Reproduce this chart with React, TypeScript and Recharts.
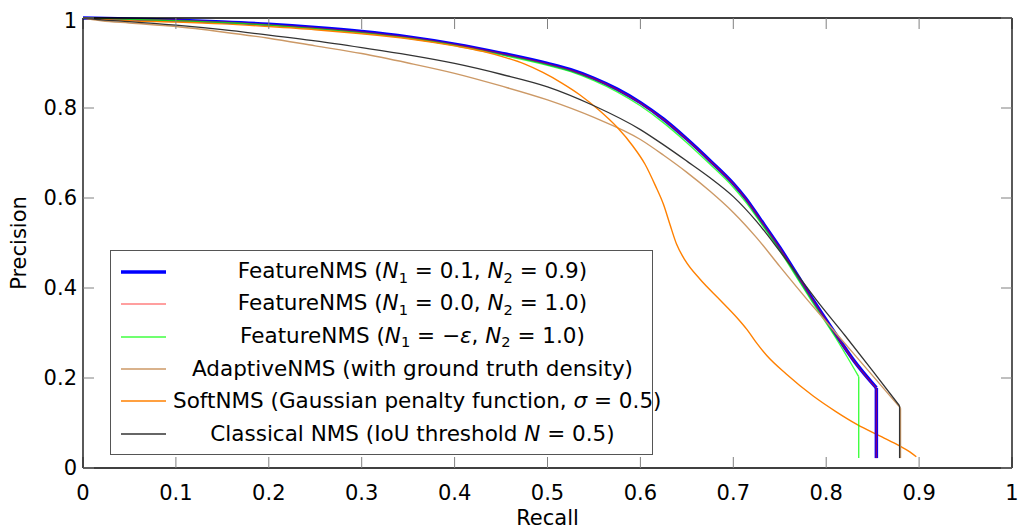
import React from 'react'
import { LineChart, Line, XAxis, YAxis, Legend } from 'recharts'

type Pt = [number, number] // [recall, precision]

const recallTicks = [0, 0.1, 0.2, 0.3, 0.4, 0.5, 0.6, 0.7, 0.8, 0.9, 1]
const precisionTicks = [0, 0.2, 0.4, 0.6, 0.8, 1]

// each curve ends at its last point, then drops straight down to dropTo
const featureNms0109: Pt[] = [
    [0, 1.0], [0.05, 0.998], [0.1, 0.995], [0.15, 0.991], [0.2, 0.986], [0.25, 0.979], [0.3, 0.97],
    [0.35, 0.958], [0.4, 0.942], [0.45, 0.922], [0.5, 0.899], [0.525, 0.885], [0.55, 0.866], [0.575, 0.842],
    [0.6, 0.812], [0.625, 0.775], [0.65, 0.731], [0.675, 0.683], [0.7, 0.632], [0.713, 0.6], [0.729, 0.553],
    [0.75, 0.49], [0.77, 0.425], [0.786, 0.373], [0.81, 0.298], [0.83, 0.238], [0.854, 0.178],
]

const featureNms0010: Pt[] = [
    [0, 1.0], [0.05, 0.998], [0.1, 0.995], [0.15, 0.991], [0.2, 0.985], [0.25, 0.978], [0.3, 0.969],
    [0.35, 0.957], [0.4, 0.941], [0.45, 0.921], [0.5, 0.898], [0.525, 0.884], [0.55, 0.865], [0.575, 0.841],
    [0.6, 0.811], [0.625, 0.774], [0.65, 0.73], [0.675, 0.682], [0.7, 0.631], [0.713, 0.599], [0.729, 0.552],
    [0.75, 0.489], [0.77, 0.424], [0.786, 0.372], [0.81, 0.297], [0.83, 0.237], [0.854, 0.177],
]

const featureNmsEps10: Pt[] = [
    [0, 1.0], [0.05, 0.997], [0.1, 0.994], [0.15, 0.99], [0.2, 0.984], [0.25, 0.976], [0.3, 0.967],
    [0.35, 0.955], [0.4, 0.939], [0.45, 0.918], [0.5, 0.895], [0.525, 0.881], [0.55, 0.861], [0.575, 0.836],
    [0.6, 0.805], [0.625, 0.767], [0.65, 0.723], [0.675, 0.675], [0.7, 0.624], [0.713, 0.592], [0.729, 0.546],
    [0.75, 0.483], [0.77, 0.418], [0.786, 0.366], [0.81, 0.29], [0.835, 0.203],
]

const adaptiveNms: Pt[] = [
    [0, 1.0], [0.02, 0.994], [0.05, 0.989], [0.1, 0.981], [0.15, 0.969], [0.2, 0.955], [0.25, 0.938],
    [0.3, 0.921], [0.35, 0.9], [0.4, 0.877], [0.45, 0.849], [0.5, 0.818], [0.55, 0.779], [0.6, 0.73],
    [0.625, 0.695], [0.65, 0.657], [0.675, 0.615], [0.7, 0.568], [0.725, 0.512], [0.75, 0.448], [0.78, 0.373],
    [0.8, 0.325], [0.83, 0.253], [0.855, 0.193], [0.88, 0.133],
]

const softNms: Pt[] = [
    [0, 1.0], [0.02, 0.997], [0.05, 0.994], [0.1, 0.991], [0.15, 0.987], [0.2, 0.981], [0.25, 0.974],
    [0.3, 0.965], [0.35, 0.954], [0.4, 0.938], [0.43, 0.926], [0.455, 0.912], [0.475, 0.898], [0.495, 0.879],
    [0.515, 0.856], [0.535, 0.829], [0.555, 0.796], [0.575, 0.757], [0.592, 0.715], [0.605, 0.675],
    [0.616, 0.628], [0.625, 0.585], [0.632, 0.54], [0.639, 0.497], [0.648, 0.462], [0.664, 0.42], [0.686, 0.373],
    [0.704, 0.334], [0.715, 0.307], [0.725, 0.278], [0.736, 0.25], [0.757, 0.209], [0.786, 0.16],
    [0.81, 0.126], [0.833, 0.097], [0.86, 0.069], [0.879, 0.049], [0.89, 0.036], [0.897, 0.025],
]

const classicalNms: Pt[] = [
    [0, 1.0], [0.02, 0.996], [0.05, 0.992], [0.1, 0.984], [0.15, 0.974], [0.2, 0.962], [0.25, 0.949],
    [0.3, 0.934], [0.35, 0.918], [0.4, 0.899], [0.45, 0.875], [0.5, 0.847], [0.55, 0.805], [0.6, 0.752],
    [0.625, 0.718], [0.65, 0.682], [0.675, 0.645], [0.7, 0.603], [0.725, 0.548], [0.75, 0.482], [0.77, 0.427],
    [0.79, 0.372], [0.82, 0.295], [0.85, 0.216], [0.879, 0.138],
]

const dropTo = 0.022

const FONT = '"DejaVu Sans", sans-serif'

const N = ({ sub }: { sub?: string }) => (
    <>
        <span style={{ fontStyle: 'italic' }}>N</span>
        {sub && <span style={{ fontSize: '0.68em', position: 'relative', top: '0.32em' }}>{sub}</span>}
    </>
)

const series = [
    {
        key: 'a', pts: featureNms0109, drop: true, color: '#0000ff', width: 3.5, opacity: 1,
        label: <>FeatureNMS (<N sub="1" /> = 0.1, <N sub="2" /> = 0.9)</>,
    },
    {
        key: 'b', pts: featureNms0010, drop: true, color: '#ff0000', width: 1.5, opacity: 0.5,
        label: <>FeatureNMS (<N sub="1" /> = 0.0, <N sub="2" /> = 1.0)</>,
    },
    {
        key: 'c', pts: featureNmsEps10, drop: true, color: '#00ff00', width: 1.4, opacity: 0.75,
        label: <>FeatureNMS (<N sub="1" /> = −<i>ε</i>, <N sub="2" /> = 1.0)</>,
    },
    {
        key: 'd', pts: adaptiveNms, drop: true, color: '#cc9966', width: 1.4, opacity: 1,
        label: <>AdaptiveNMS (with ground truth density)</>,
    },
    {
        key: 'e', pts: softNms, drop: false, color: '#ff8000', width: 1.4, opacity: 1,
        label: <>SoftNMS (Gaussian penalty function, <i>σ</i> = 0.5)</>,
    },
    {
        key: 'f', pts: classicalNms, drop: true, color: '#333333', width: 1.3, opacity: 1,
        label: <>Classical NMS (IoU threshold <N /> = 0.5)</>,
    },
]

const toRows = (pts: Pt[]) => pts.map(([r, p]) => ({ r, p }))

const dropRows = (pts: Pt[]) => {
    const [r, p] = pts[pts.length - 1]
    return [{ r, p }, { r, p: dropTo }]
}

const HiddenTick = () => <g />

const YTitle = ({ viewBox }: any) => {
    const cx = viewBox.x - 4
    const cy = viewBox.y + viewBox.height / 2
    return (
        <text x={cx} y={cy} transform={`rotate(-90 ${cx} ${cy})`} textAnchor="middle" dominantBaseline="central"
            fontSize={21} fontFamily={FONT} fill="#000">
            Precision
        </text>
    )
}

const XTitle = ({ viewBox }: any) => (
    <text x={viewBox.x + viewBox.width / 2} y={viewBox.y + viewBox.height + 12} textAnchor="middle"
        fontSize={21} fontFamily={FONT} fill="#000">
        Recall
    </text>
)

const LegendBox = () => (
    <div style={{
        boxSizing: 'border-box', width: '100%', height: '100%', border: '1.3px solid #555',
        background: '#fff', padding: '5px 0', fontFamily: FONT, fontSize: 21.5, color: '#000',
    }}>
        {series.map(s => (
            <div key={s.key} style={{ display: 'flex', alignItems: 'center', height: 32.3 }}>
                <svg width={62} height={10} style={{ flex: 'none' }}>
                    <line x1={10} x2={55} y1={5} y2={5} stroke={s.color} strokeOpacity={s.opacity}
                        strokeWidth={s.width} />
                </svg>
                <div style={{ flex: 1, textAlign: 'center', whiteSpace: 'nowrap', lineHeight: '24px' }}>{s.label}</div>
            </div>
        ))}
    </div>
)

export default function App() {
    const tickStyle = { fill: '#000', fontSize: 21, fontFamily: FONT }
    const frame = { stroke: '#000', strokeWidth: 1.3 }
    const tickLine = { stroke: '#808080' }
    return (
        <div style={{ width: 1011, height: 521, padding: '8px 0 0 8px' }}>
            <style>{'html, body { margin: 0; overflow: hidden; }'}</style>
            <LineChart width={1011} height={521} margin={{ top: 8, right: 5, bottom: 16, left: 15 }}>
                <XAxis xAxisId="b" type="number" dataKey="r" domain={[0, 1]} ticks={recallTicks}
                    orientation="bottom" height={45} tickSize={-11} tickMargin={28} tick={tickStyle}
                    axisLine={frame} tickLine={tickLine} label={<XTitle />} />
                <XAxis xAxisId="t" type="number" dataKey="r" domain={[0, 1]} ticks={recallTicks}
                    orientation="top" height={2} tickSize={-11} tick={<HiddenTick />}
                    axisLine={frame} tickLine={tickLine} />
                <YAxis yAxisId="l" type="number" domain={[0, 1]} ticks={precisionTicks} width={60}
                    tickSize={-11} tickMargin={17} tick={tickStyle}
                    axisLine={frame} tickLine={tickLine} label={<YTitle />} />
                <YAxis yAxisId="r" orientation="right" type="number" domain={[0, 1]} ticks={precisionTicks}
                    width={2} tickSize={-11} tick={<HiddenTick />}
                    axisLine={frame} tickLine={tickLine} />
                {/* invisible series so the top and right frame axes are rendered */}
                <Line xAxisId="t" yAxisId="r" data={toRows(classicalNms)} dataKey="p" stroke="none"
                    dot={false} activeDot={false} isAnimationActive={false} legendType="none" />
                {series.map(s => (
                    <Line key={s.key} xAxisId="b" yAxisId="l" data={toRows(s.pts)} dataKey="p" type="monotone"
                        stroke={s.color} strokeOpacity={s.opacity} strokeWidth={s.width} dot={false}
                        activeDot={false} isAnimationActive={false} legendType="none" />
                ))}
                {series.filter(s => s.drop).map(s => (
                    <Line key={s.key + '-drop'} xAxisId="b" yAxisId="l" data={dropRows(s.pts)} dataKey="p"
                        type="linear" stroke={s.color} strokeOpacity={s.opacity} strokeWidth={s.width}
                        dot={false} activeDot={false} isAnimationActive={false} legendType="none" />
                ))}
                <Legend layout="vertical" align="center" verticalAlign="middle" content={<LegendBox />}
                    wrapperStyle={{ position: 'absolute', left: 102, top: 242, width: 543, height: 205 }} />
            </LineChart>
        </div>
    )
}
